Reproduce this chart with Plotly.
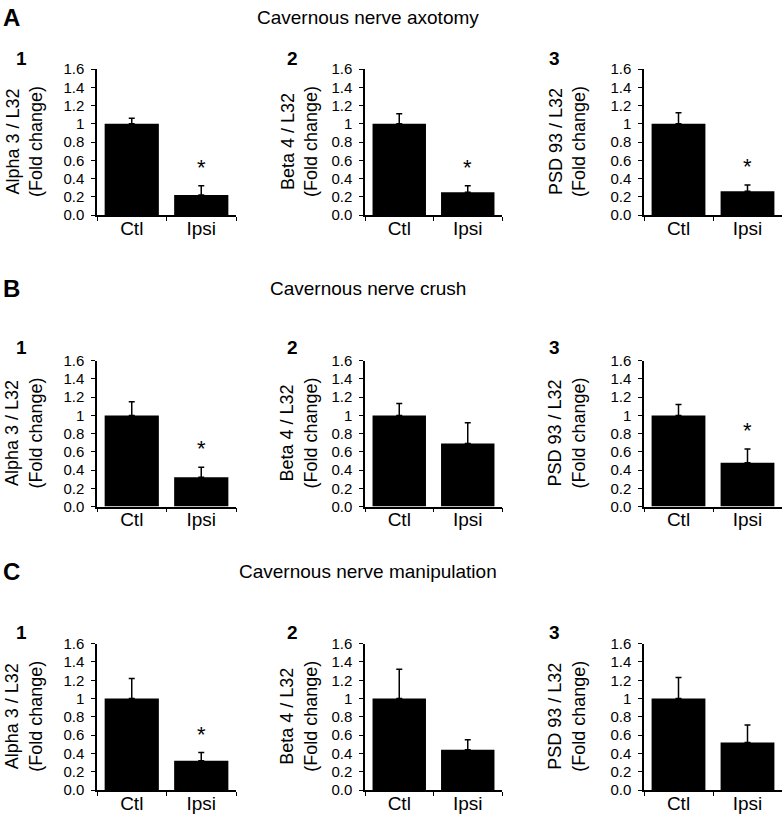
import plotly.graph_objects as go

# ---------------- data ----------------
categories = ["Ctl", "Ipsi"]
section_letters = ["A", "B", "C"]
section_titles = ["Cavernous nerve axotomy", "Cavernous nerve crush", "Cavernous nerve manipulation"]
panel_numbers = ["1", "2", "3"]
y_titles = ["Alpha 3 / L32", "Beta 4 / L32", "PSD 93 / L32"]
y_tickvals = [0, 0.2, 0.4, 0.6, 0.8, 1.0, 1.2, 1.4, 1.6]
y_ticktext = ["0.0", "0.2", "0.4", "0.6", "0.8", "1", "1.2", "1.4", "1.6"]

# rows: axotomy, crush, manipulation ; columns: Alpha 3, Beta 4, PSD 93
axotomy_means = [[1.0, 0.22], [1.0, 0.25], [1.0, 0.26]]
axotomy_errs = [[0.06, 0.10], [0.11, 0.07], [0.12, 0.07]]
axotomy_sig = [["", "*"], ["", "*"], ["", "*"]]

crush_means = [[1.0, 0.32], [1.0, 0.69], [1.0, 0.48]]
crush_errs = [[0.15, 0.11], [0.13, 0.23], [0.12, 0.15]]
crush_sig = [["", "*"], ["", ""], ["", "*"]]

manip_means = [[1.0, 0.32], [1.0, 0.44], [1.0, 0.52]]
manip_errs = [[0.22, 0.09], [0.32, 0.11], [0.23, 0.19]]
manip_sig = [["", "*"], ["", ""], ["", ""]]

means = [axotomy_means, crush_means, manip_means]
errs = [axotomy_errs, crush_errs, manip_errs]
sigs = [axotomy_sig, crush_sig, manip_sig]

# ---------------- layout geometry ----------------
W, H = 783, 819
FONT = "Liberation Sans, Arial, sans-serif"
col_px = [(97, 236), (365, 502), (644, 782)]
row_px = [(69, 215), (360.7, 506.5), (643.7, 790)]
title_y_px = [17, 288, 571]
number_y_px = [59, 347, 632]
number_x_px = [21, 292, 554]
ytitle_x_px = [24, 299, 567]

fig = go.Figure()
layout = dict(
    width=W, height=H,
    margin=dict(l=0, r=0, t=0, b=0, autoexpand=False),
    paper_bgcolor="white", plot_bgcolor="white",
    showlegend=False,
    font=dict(family=FONT, color="black"),
)
annotations = []

for r in range(3):
    for c in range(3):
        i = r * 3 + c + 1
        xname = "xaxis" if i == 1 else f"xaxis{i}"
        yname = "yaxis" if i == 1 else f"yaxis{i}"
        xref = "x" if i == 1 else f"x{i}"
        yref = "y" if i == 1 else f"y{i}"
        x0, x1 = col_px[c]
        yt, yb = row_px[r]
        layout[xname] = dict(
            domain=[x0 / W, x1 / W], anchor=yref,
            type="category", range=[-0.5, 1.5], automargin=False,
            showline=True, linecolor="black", linewidth=1.5,
            ticks="outside", tickson="boundaries", ticklen=4, tickwidth=1.2, tickcolor="black",
            ticklabelstandoff=-5,
            tickfont=dict(size=19, family=FONT, color="black"),
            showgrid=False, zeroline=False, fixedrange=True,
        )
        layout[yname] = dict(
            domain=[1 - yb / H, 1 - yt / H], anchor=xref,
            range=[0, 1.6], automargin=False,
            tickmode="array", tickvals=y_tickvals, ticktext=y_ticktext,
            showline=True, linecolor="black", linewidth=1.5,
            ticks="outside", ticklen=4, tickwidth=1.2, tickcolor="black",
            ticklabelstandoff=4,
            tickfont=dict(size=15, family=FONT, color="black"),
            showgrid=False, zeroline=False, fixedrange=True,
        )
        m = means[r][c]
        e = errs[r][c]
        fig.add_trace(go.Bar(
            x=categories, y=m, width=0.78,
            marker=dict(color="black", line=dict(width=0)),
            error_y=dict(type="data", symmetric=False, array=e, arrayminus=[0, 0],
                         color="black", thickness=1.5, width=3),
            xaxis=xref, yaxis=yref, hoverinfo="skip",
        ))
        # significance asterisks
        for k, s in enumerate(sigs[r][c]):
            if s:
                annotations.append(dict(
                    x=categories[k], y=m[k] + e[k], xref=xref, yref=yref,
                    text=s, showarrow=False, xanchor="center", yanchor="bottom",
                    yshift=4, font=dict(size=22, family=FONT, color="black"),
                ))
        # panel number
        annotations.append(dict(
            x=number_x_px[c] / W, y=1 - number_y_px[r] / H, xref="paper", yref="paper",
            text="<b>" + panel_numbers[c] + "</b>", showarrow=False,
            xanchor="center", yanchor="middle",
            font=dict(size=19, family=FONT, color="black"),
        ))
        # y axis title
        annotations.append(dict(
            x=ytitle_x_px[c] / W, y=1 - ((yt + yb) / 2) / H, xref="paper", yref="paper",
            text=y_titles[c] + "<br>(Fold change)", showarrow=False, textangle=-90,
            xanchor="center", yanchor="middle",
            font=dict(size=18, family=FONT, color="black"),
        ))
    # section letter and title
    annotations.append(dict(
        x=11 / W, y=1 - title_y_px[r] / H, xref="paper", yref="paper",
        text="<b>" + section_letters[r] + "</b>", showarrow=False,
        xanchor="center", yanchor="middle",
        font=dict(size=24, family=FONT, color="black"),
    ))
    annotations.append(dict(
        x=368 / W, y=1 - title_y_px[r] / H, xref="paper", yref="paper",
        text=section_titles[r], showarrow=False,
        xanchor="center", yanchor="middle",
        font=dict(size=19, family=FONT, color="black"),
    ))

layout["annotations"] = annotations
fig.update_layout(**layout)
fig.write_html(
    "out.html",
    config={"displayModeBar": False},
    post_script="document.body.style.margin='0px';document.body.style.overflow='hidden';",
)
